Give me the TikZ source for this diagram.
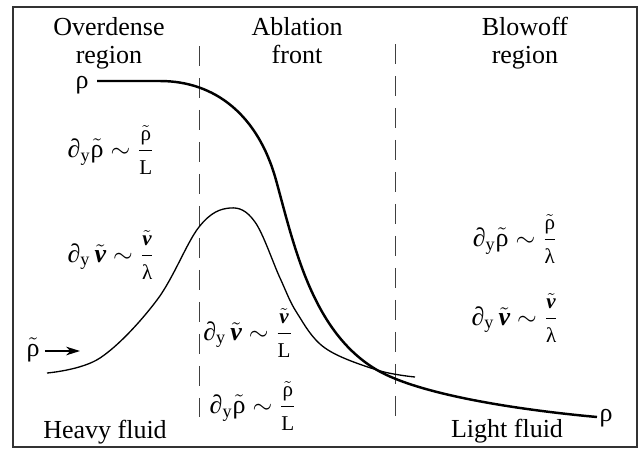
\documentclass[tikz,border=0pt]{standalone}
\usepackage{amsmath}
\usepackage{fontspec}
\setmainfont{Liberation Serif}
\usetikzlibrary{arrows.meta}

\newcommand{\rhot}{\tilde{\text{ρ}}}
\newcommand{\vt}{\tilde{\text{\bfseries\itshape v}}}
\newcommand{\dy}{\text{∂}_{\text{y}}}
\newcommand{\fracsize}{\fontsize{12pt}{12pt}\selectfont}
\newcommand{\ffrac}[2]{\dfrac{\text{\fracsize$#1$}}{\text{\fracsize$#2$}}}

\begin{document}
\begin{tikzpicture}[x=0.02cm, y=-0.02cm,
    every node/.style={inner sep=0pt, font=\fontsize{14.8pt}{15.9pt}\selectfont},
    title/.style={align=center, anchor=north},
    rholine/.style={line width=1.4pt},
    pertline/.style={line width=0.75pt},
    divider/.style={line width=0.5pt, black!75, dash pattern=on 0.4cm off 0.24cm}]
    \useasboundingbox (0, 0) rectangle (640, 451);
    \draw[line width=0.8pt, black!80] (13, 7) rectangle (637, 447);

    \draw[divider] (199, 46) -- (199, 417);
    \draw[divider] (395, 44) -- (395, 417);

    \node[title] at (109, 17) (over) {Overdense\\region};
    \node[title] at (297, 17) (abl) {Ablation\\front};
    \node[title] at (525, 17) (blow) {Blowoff\\region};

    \node[anchor=base] at (82, 88) (rho0) {ρ};
    \node[anchor=base] at (606, 421) (rho1) {ρ};
    \node[anchor=base] at (33, 356) (rhot) {$\rhot$};
    \coordinate (tip) at (80, 351);

    \draw[rholine] (97, 81) -- (160, 81) .. controls (215, 81) and (258, 115) .. (276, 180)
        .. controls (294, 245) and (312, 332) .. (377, 370)
        .. controls (420, 395) and (520, 410) .. (597, 417);
    \draw[pertline] plot[smooth, tension=0.6] coordinates {(47, 373) (100, 358) (157, 300)
        (199, 227) (230, 208) (255, 222) (280, 278) (297, 313) (325, 348)
        (377, 370) (415, 377)};

    \draw[-{Stealth[length=8pt, width=5pt]}, line width=0.75pt] (rhot.east |- tip) ++(5, 0) -- (tip);

    \node at (111, 150) (eq1) {$\dy\rhot \sim \ffrac{\rhot}{\text{L}}$};
    \node at (111, 255) (eq2) {$\dy\,\vt \sim \ffrac{\vt}{\text{λ}}$};
    \node at (248, 333) (eq3) {$\dy\,\vt \sim \ffrac{\vt}{\text{L}}$};
    \node at (253, 406) (eq4) {$\dy\rhot \sim \ffrac{\rhot}{\text{L}}$};
    \node at (515, 239) (eq5) {$\dy\rhot \sim \ffrac{\rhot}{\text{λ}}$};
    \node at (515, 318) (eq6) {$\dy\,\vt \sim \ffrac{\vt}{\text{λ}}$};

    \node[anchor=base] at (105, 438) (heavy) {Heavy fluid};
    \node[anchor=base] at (507, 437) (light) {Light fluid};
\end{tikzpicture}
\end{document}
